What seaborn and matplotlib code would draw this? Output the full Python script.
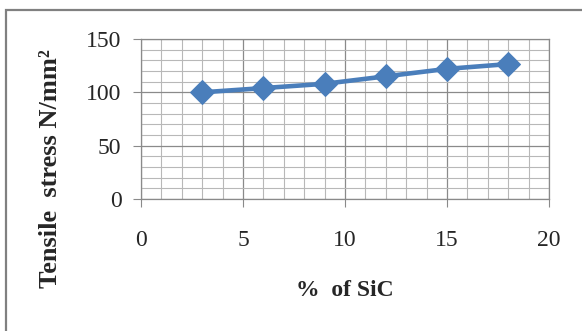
import matplotlib
matplotlib.use("Agg")
import matplotlib.pyplot as plt
import seaborn as sns
import pandas as pd
from matplotlib.patches import Rectangle
from matplotlib.ticker import MultipleLocator

# data
sic_pct = [3, 6, 9, 12, 15, 18]
tensile = [100, 104, 108, 115, 122, 126.5]

x_ticks = [0, 5, 10, 15, 20]
y_ticks = [0, 50, 100, 150]

df = pd.DataFrame({"sic": sic_pct, "stress": tensile})

sns.set_style("white")
plt.rcParams['font.family'] = ['Liberation Serif', 'DejaVu Serif']

fig = plt.figure(figsize=(5.82, 3.31), dpi=100)
ax = fig.add_axes([141 / 582, 1 - 199 / 331, 408 / 582, 160 / 331])

ax.set_xlim(0, 20)
ax.set_ylim(0, 150)
ax.set_xticks(x_ticks)
ax.set_yticks(y_ticks)
ax.xaxis.set_minor_locator(MultipleLocator(1))
ax.yaxis.set_minor_locator(MultipleLocator(10))
ax.grid(which='major', color='#8a8a8a', linewidth=0.9)
ax.grid(which='minor', color='#b8b8b8', linewidth=0.8)
ax.set_axisbelow(True)

sns.lineplot(data=df, x="sic", y="stress", ax=ax, color='#4A7EBB',
             linewidth=3.3, marker='D', markersize=12,
             markeredgecolor='#4A7EBB', zorder=3)

for s in ax.spines.values():
    s.set_color('#8a8a8a')
    s.set_linewidth(0.9)

ax.tick_params(axis='both', which='major', length=6, color='#8a8a8a',
               labelsize=17, direction='out')
ax.tick_params(axis='x', pad=16)
ax.tick_params(axis='y', pad=8)
ax.tick_params(which='minor', length=0)
ax.tick_params(bottom=True, left=True)

ax.set_xlabel('%  of SiC', fontsize=17, fontweight='bold')
ax.set_ylabel('Tensile  stress N/mm²', fontsize=19, fontweight='bold')
ax.xaxis.set_label_coords(0.5, -0.569)
ax.xaxis.label.set_verticalalignment('center')
ax.yaxis.set_label_coords(-0.223, 0.19)
ax.yaxis.label.set_verticalalignment('center')

# outer chart border
fig.patches.append(Rectangle((6 / 582, -0.1), 1.2, 1 - 10 / 331 + 0.1,
                             transform=fig.transFigure, fill=False,
                             edgecolor='#808080', linewidth=1.6))

fig.savefig("out.png", dpi=100)
